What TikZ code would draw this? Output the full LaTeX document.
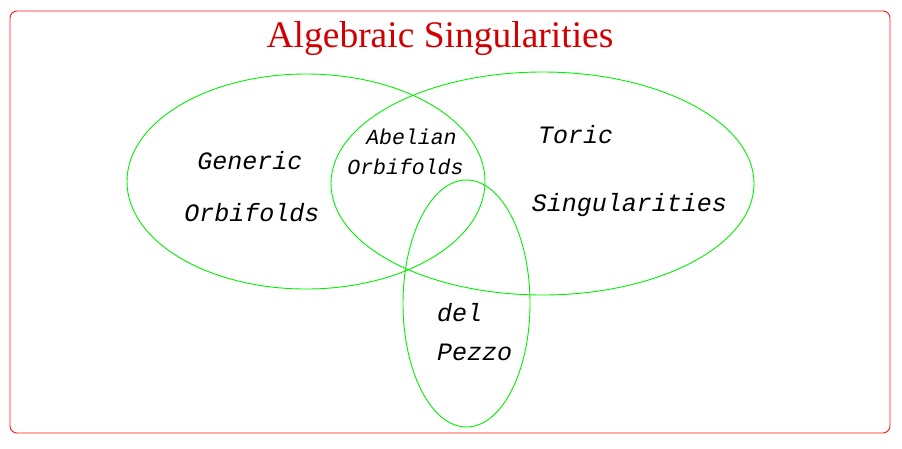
\documentclass[tikz,border=0pt]{standalone}
\usepackage{fontspec}
\setmainfont{Liberation Serif}
\setmonofont{Liberation Mono}
\definecolor{framered}{RGB}{255,20,20}
\definecolor{titlered}{RGB}{210,0,0}
\definecolor{setgreen}{RGB}{0,240,0}
\tikzset{
  settext/.style={font=\fontsize{25}{30}\selectfont\ttfamily\itshape},
  smalltext/.style={font=\fontsize{21.5}{26}\selectfont\ttfamily\itshape},
  setline/.style={setgreen, line width=0.9pt}
}
\begin{document}
\begin{tikzpicture}[x=1pt, y=-1pt]
  \useasboundingbox (0,0) rectangle (902,448);
  \draw[framered, line width=0.9pt, rounded corners=7pt] (10,11) rectangle (890,433);
  \node[titlered, font=\fontsize{37.5}{40}\selectfont] (title) at (440,39) {Algebraic Singularities};
  % the three sets
  \draw[setline] (306,181.5) ellipse [x radius=179, y radius=107.5];
  \draw[setline] (542.5,183.5) ellipse [x radius=211.5, y radius=111.5];
  \draw[setline] (466.5,303.5) ellipse [x radius=63.5, y radius=123.5];
  % labels
  \node[settext] (generic) at (250,161) {Generic};
  \node[settext] (orbi) at (252,213) {Orbifolds};
  \node[smalltext] (abelian) at (411.5,137) {Abelian};
  \node[smalltext] (aborbi) at (405.5,167) {Orbifolds};
  \node[settext] (toric) at (575.5,135) {Toric};
  \node[settext] (sing) at (629.5,205) {Singularities};
  \node[settext, anchor=west, inner sep=0pt] (del) at (437,313) {del};
  \node[settext, anchor=west, inner sep=0pt] (pezzo) at (437,352) {Pezzo};
\end{tikzpicture}
\end{document}
